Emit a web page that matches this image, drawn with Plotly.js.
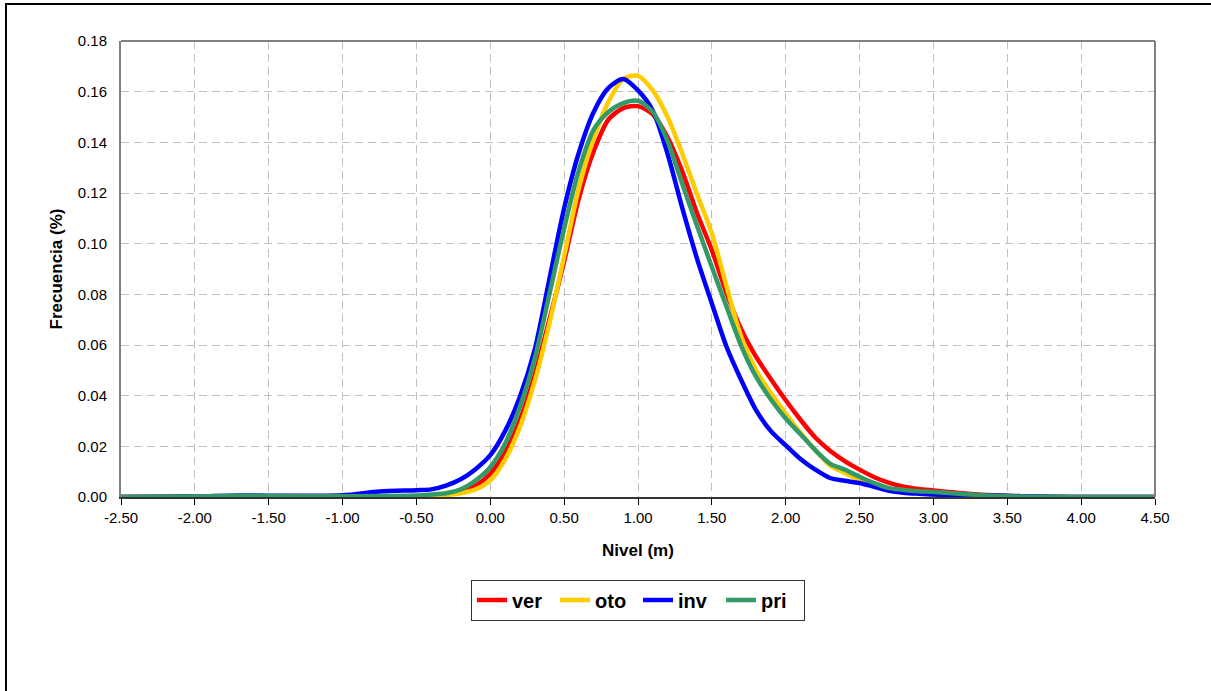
<!DOCTYPE html>
<html>
<head>
<meta charset="utf-8">
<script src="https://cdn.plot.ly/plotly-3.0.1.min.js"></script>
<style>
  html, body { margin: 0; padding: 0; background: #ffffff; overflow: hidden; }
  #chart { position: absolute; left: 0; top: 0; width: 1211px; height: 691px; }
  #frame { position: absolute; left: 5px; top: 3px; width: 1300px; height: 800px;
           border-left: 2px solid #000; border-top: 2px solid #000; pointer-events: none; }
</style>
</head>
<body>
<div id="chart"></div>
<div id="frame"></div>
<script>
// Nivel (m)
const nivel = [-2.5, -2.0, -1.7, -1.5, -1.0, -0.75, -0.5, -0.4, -0.3, -0.2, -0.1,
  0.0, 0.1, 0.2, 0.3, 0.4, 0.5, 0.6, 0.7, 0.8, 0.9, 1.0, 1.1, 1.2, 1.3, 1.4, 1.5,
  1.6, 1.7, 1.8, 1.9, 2.0, 2.1, 2.2, 2.3, 2.4, 2.5, 2.6, 2.7, 2.8, 2.9, 3.0,
  3.2, 3.4, 3.6, 3.8, 4.0, 4.5];

const ver = [0, 0.0001, 0.0002, 0.0002, 0.0002, 0.0002, 0.0002, 0.0005, 0.001, 0.0022, 0.0045,
  0.0092, 0.0175, 0.0303, 0.048, 0.070, 0.093, 0.118, 0.1365, 0.149, 0.1535, 0.1543, 0.151, 0.142, 0.1285, 0.112, 0.0974,
  0.0803, 0.066, 0.0553, 0.0465, 0.0382, 0.0305, 0.0235, 0.0183, 0.0142, 0.0108, 0.0078, 0.0056, 0.0041, 0.0032, 0.0026,
  0.0015, 0.0007, 0.0003, 0.0001, 0, 0];

const oto = [0, 0.0001, 0.0002, 0.0002, 0.0002, 0.0002, 0.0002, 0.0005, 0.0008, 0.0015, 0.003,
  0.0066, 0.0148, 0.0276, 0.0455, 0.0685, 0.095, 0.122, 0.1415, 0.156, 0.165, 0.1662, 0.1605, 0.150, 0.1355, 0.1195, 0.104,
  0.083, 0.063, 0.050, 0.041, 0.0329, 0.0254, 0.0185, 0.0125, 0.0095, 0.0067, 0.0045, 0.0028, 0.002, 0.0015, 0.0012,
  0.0004, 0.0001, 0, 0, 0, 0];

const inv = [0, 0.0002, 0.0006, 0.0005, 0.0007, 0.0022, 0.0027, 0.003, 0.0045, 0.007, 0.011,
  0.0165, 0.026, 0.0395, 0.058, 0.086, 0.114, 0.136, 0.152, 0.1615, 0.165, 0.1605, 0.1525, 0.1355, 0.114, 0.094, 0.0764,
  0.0592, 0.046, 0.0342, 0.026, 0.0204, 0.015, 0.0108, 0.0075, 0.0064, 0.0055, 0.004, 0.0025, 0.0017, 0.0013, 0.001,
  0.0008, 0.0006, 0.0003, 0.0001, 0, 0];

const pri = [0, 0.0002, 0.0005, 0.0004, 0.0003, 0.0004, 0.0006, 0.001, 0.0015, 0.003, 0.0065,
  0.0118, 0.021, 0.0355, 0.0545, 0.080, 0.106, 0.129, 0.145, 0.152, 0.1555, 0.1564, 0.152, 0.1405, 0.1235, 0.107, 0.0908,
  0.075, 0.0595, 0.0474, 0.0385, 0.031, 0.0248, 0.0185, 0.0132, 0.0108, 0.008, 0.0055, 0.0035, 0.0028, 0.0023, 0.002,
  0.0012, 0.0005, 0.0002, 0.0001, 0, 0];

const seriesNames = ["ver", "oto", "inv", "pri"];
const seriesValues = [ver, oto, inv, pri];
const seriesColors = ["#FF0000", "#FFCC00", "#0000FF", "#339966"];

const xTicks = [-2.5, -2.0, -1.5, -1.0, -0.5, 0, 0.5, 1.0, 1.5, 2.0, 2.5, 3.0, 3.5, 4.0, 4.5];
const xTickText = ["-2.50", "-2.00", "-1.50", "-1.00", "-0.50", "0.00", "0.50", "1.00", "1.50", "2.00", "2.50", "3.00", "3.50", "4.00", "4.50"];
const yTicks = [0, 0.02, 0.04, 0.06, 0.08, 0.10, 0.12, 0.14, 0.16, 0.18];
const yTickText = ["0.00", "0.02", "0.04", "0.06", "0.08", "0.10", "0.12", "0.14", "0.16", "0.18"];

const FONT = "Liberation Sans, Arial, sans-serif";

const traces = seriesNames.map((name, i) => ({
  type: "scatter",
  mode: "lines",
  name: name,
  x: nivel,
  y: seriesValues[i],
  line: { color: seriesColors[i], width: 4.5, shape: "spline", smoothing: 0.8 },
  cliponaxis: true
}));

const layout = {
  width: 1211,
  height: 691,
  margin: { l: 121, r: 56, t: 41, b: 194 },
  paper_bgcolor: "#ffffff",
  plot_bgcolor: "#ffffff",
  font: { family: FONT, size: 15, color: "#000" },
  showlegend: true,
  legend: {
    orientation: "h",
    x: 0.5, xanchor: "center",
    y: -0.226, yanchor: "middle",
    bordercolor: "#333", borderwidth: 1,
    font: { family: FONT, size: 20, color: "#000", weight: "bold" },
    itemwidth: 30,
    entrywidth: 38,
    entrywidthmode: "pixels",
    tracegroupgap: 0
  },
  xaxis: {
    range: [-2.5, 4.5],
    automargin: false,
    tickmode: "array", tickvals: xTicks, ticktext: xTickText,
    ticks: "outside", ticklen: 6, tickcolor: "#000", tickwidth: 1,
    showline: true, linecolor: "#333", linewidth: 2,
    showgrid: true, gridcolor: "#c0c0c0", gridwidth: 1, griddash: "8px,5px",
    zeroline: false,
    tickfont: { family: FONT, size: 15, color: "#000" },
    title: { text: "Nivel (m)", font: { family: FONT, size: 17, color: "#000", weight: "bold" }, standoff: 19 }
  },
  yaxis: {
    range: [0, 0.18],
    automargin: false,
    tickmode: "array", tickvals: yTicks, ticktext: yTickText,
    ticks: "outside", ticklen: 9, tickcolor: "rgba(0,0,0,0)",
    showline: true, linecolor: "#808080", linewidth: 2,
    showgrid: true, gridcolor: "#c0c0c0", gridwidth: 1, griddash: "8px,5px",
    zeroline: false,
    tickfont: { family: FONT, size: 15, color: "#000" },
    title: { text: "Frecuencia (%)", font: { family: FONT, size: 17, color: "#000", weight: "bold" }, standoff: 11 }
  },
  shapes: [
    { type: "line", xref: "paper", yref: "paper", x0: 0, x1: 1, y0: 1, y1: 1,
      line: { color: "#808080", width: 2 } },
    { type: "line", xref: "paper", yref: "paper", x0: 1, x1: 1, y0: 0, y1: 1,
      line: { color: "#808080", width: 2 } }
  ]
};

Plotly.newPlot("chart", traces, layout, { displayModeBar: false, staticPlot: true });
</script>
</body>
</html>
